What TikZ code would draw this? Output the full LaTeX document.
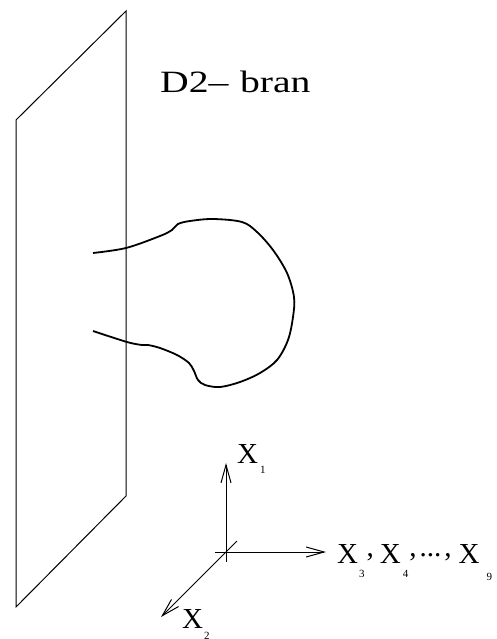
\documentclass[tikz,border=0pt]{standalone}
\usepackage{fontspec}
\setmainfont{Liberation Serif}
\usetikzlibrary{arrows.meta}
\newcommand{\subf}{\fontsize{11}{11}\selectfont}
\newcommand{\xsub}[3][12pt]{X\kern#2\raisebox{-#1}{\subf #3}}

\begin{document}
\begin{tikzpicture}[x=1pt,y=-1pt,
    plane/.style={line width=1pt,line join=miter},
    string/.style={line width=1.8pt},
    axis/.style={line width=1pt,-{Straight Barb[length=18pt,width=10pt,line width=1pt]}},
    lbl/.style={inner sep=0pt,anchor=base west,font=\fontsize{29}{29}\selectfont}]
        \useasboundingbox (0,0) rectangle (497,639);
        % the D2-brane
        \draw[plane] (16,120) -- (126,11) -- (126,496) -- (16,607) -- cycle;
        \node[lbl,font=\fontsize{31}{31}\selectfont] (brane) at (160,93) {\scalebox{1.28}[1]{D2\textendash\hspace{9pt}bran}};
        % open string ending on the brane
        \draw[string] plot[smooth,tension=0.55] coordinates {(93,253) (126,248) (160,236) (172,230)
          (178,224) (190,221) (213,219) (242,222) (257,232) (273,250) (287,273) (294,297) (293,317)
          (288,340) (277,360) (260,373) (240,382) (220,387) (205,385) (198,380) (194,371) (189,363)
          (177,355) (160,348) (148,345) (142,345) (127,342) (93,331)};
        % axes
        \coordinate (o) at (226,552);
        \coordinate (vb) at (226,562);
        \coordinate (hb) at (215,552);
        \coordinate (db) at (237,541);
        \coordinate (x1) at (226,463);
        \coordinate (x2) at (161,617);
        \coordinate (x3) at (326,552);
        \draw[line width=1pt] (vb) -- (o);
        \draw[axis] (o) -- (x1);
        \draw[line width=1pt] (hb) -- (o);
        \draw[axis] (o) -- (x3);
        \draw[line width=1pt] (db) -- (o);
        \draw[axis] (o) -- (x2);
        \node[lbl] (l1) at (237,463) {\xsub[10pt]{2pt}{1}};
        \node[lbl] (l2) at (182,628) {\xsub[11pt]{1pt}{2}};
        \node[lbl] (l3) at (337,563) {\xsub[14pt]{1pt}{3}\kern2pt\raisebox{7pt}{,}\kern6pt
          \xsub[14pt]{2pt}{4}\kern1pt\raisebox{7pt}{,\kern3pt...\kern3pt,}\kern7pt\xsub[17pt]{7pt}{9}};
      \end{tikzpicture}
\end{document}
